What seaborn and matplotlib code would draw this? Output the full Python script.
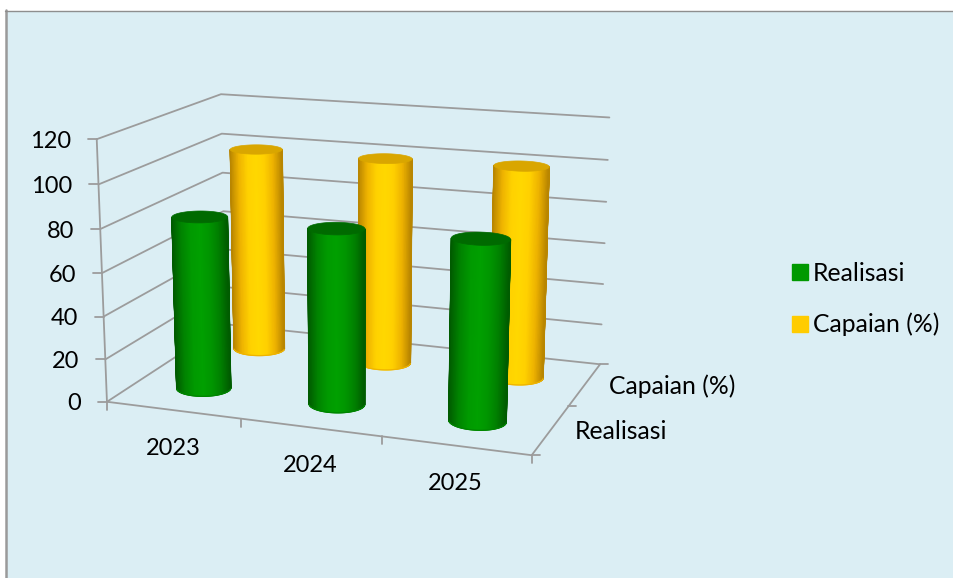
import numpy as np
import pandas as pd
import matplotlib
matplotlib.use("Agg")
import matplotlib.pyplot as plt
from matplotlib.patches import Patch, Rectangle
import seaborn as sns

years = ["2023", "2024", "2025"]
series_names = ["Realisasi", "Capaian (%)"]
realisasi = [81, 81, 82]
capaian = [100, 100, 101]
y_ticks = [0, 20, 40, 60, 80, 100, 120]

GREEN = "#009900"
YELLOW = "#FFCC00"
PANEL = "#DBEEF4"
GRID = "#9C9C9C"
FONT = 17
WORD_FONT = 17.8

sns.set_theme(style="white")
plt.rcParams["font.family"] = ["Lato", "DejaVu Sans"]

# walls of the fake 3D box: (category, depth, height) -> pixel, fitted to a projection
box_uvw = [(0, 0, 0), (1, 0, 0), (0, 1, 0), (1, 1, 0), (0, 0, 1), (0, 1, 1), (1, 1, 1),
           (0, 0, .5), (1, 1, .5), (1 / 3, 0, 0), (2 / 3, 0, 0), (1, .5, 0)]
box_px = [(107, 401), (531, 455), (226, 325), (600, 363), (97, 139), (220, 94), (610, 118),
          (103, 272), (604, 244), (240, 420), (381, 438), (570, 405)]

rows = []
rhs = []
for (u, v, w), (px, py) in zip(box_uvw, box_px):
    rows.append([u, v, w, 1, 0, 0, 0, 0, -px * u, -px * v, -px * w])
    rows.append([0, 0, 0, 0, u, v, w, 1, -py * u, -py * v, -py * w])
    rhs += [px, py]
coef = np.linalg.lstsq(np.array(rows, float), np.array(rhs, float), rcond=None)[0]
P = np.append(coef, 1).reshape(3, 4)


def project(u, v, value):
    u, v, value = np.broadcast_arrays(u, v, value)
    pts = np.stack([u, v, value / 120, np.ones(u.shape)])
    out = P @ pts
    return out[0] / out[2], out[1] / out[2]


def draw_cylinder(ax, u0, v0, value, shades, top, ru=.064, rv=.09):
    ang = np.linspace(0, 2 * np.pi, 181)
    us = u0 + ru * np.cos(ang)
    vs = v0 + rv * np.sin(ang)
    bx, by = project(us, vs, 0)
    tx, ty = project(us, vs, value)
    cmap = sns.blend_palette(shades, as_cmap=True)
    # only the arc that faces the viewer, left silhouette to right silhouette
    i0, i1 = np.argmin(bx[:-1]), np.argmax(bx[:-1])
    arc = np.arange(i0, i1 + (180 if i1 < i0 else 0) + 1) % 180
    shade = (bx[arc] - bx[i0]) / (bx[i1] - bx[i0])
    ax.pcolormesh(np.array([tx[arc], bx[arc]]), np.array([ty[arc], by[arc]]), np.array([shade, shade]),
                  cmap=cmap, vmin=0, vmax=1, shading="gouraud", zorder=3)
    # smooth the mesh borders
    ax.plot(bx[arc], by[arc], color=shades[1], lw=.9, zorder=3)
    ax.plot([tx[i0], bx[i0]], [ty[i0], by[i0]], color=shades[0], lw=.9, zorder=3)
    ax.plot([tx[i1], bx[i1]], [ty[i1], by[i1]], color=shades[0], lw=.9, zorder=3)
    ax.fill(tx, ty, color=top, lw=.5, zorder=3)


fig = plt.figure(figsize=(9.54, 5.78), dpi=100, facecolor="white")
ax = fig.add_axes([0, 0, 1, 1])
ax.set_xlim(0, 954)
ax.set_ylim(578, 0)
ax.axis("off")

ax.add_patch(Rectangle((6, 10.5), 960, 580, facecolor=PANEL, edgecolor="none", zorder=0))
ax.plot([6, 6], [10, 578], color="#9A9A9A", lw=1.8, zorder=1)
ax.plot([5, 954], [10.5, 10.5], color="#8E8E8E", lw=1, zorder=1)

# gridlines and box edges as one tidy table
lines = []
def add_line(name, us, vs, vals):
    x, y = project(np.array(us, float), np.array(vs, float), np.array(vals, float))
    for a, b in zip(x, y):
        lines.append({"line": name, "x": a, "y": b})

for t in y_ticks:
    add_line(f"wall{t}", [0, 0, 1], [0, 1, 1], [t, t, t])
add_line("axis", [0, 0], [0, 0], [0, 120])
add_line("front", [0, 1, 1], [0, 0, 1], [0, 0, 0])
grid = pd.DataFrame(lines)
sns.lineplot(data=grid, x="x", y="y", units="line", estimator=None, sort=False,
             color=GRID, lw=1.3, ax=ax, zorder=2)
ax.set_xlim(0, 954)
ax.set_ylim(578, 0)

# ticks + tick labels
for t in y_ticks:
    x, y = project(0., 0., float(t))
    ax.plot([x - 9, x], [y, y], color=GRID, lw=1.3, zorder=2)
    ax.text(x - 26, y + 2, str(t), ha="right", va="center", fontsize=FONT, color="black")
for i in range(4):
    x, y = project(i / 3, 0., 0.)
    ax.plot([x, x], [y, y + 8], color=GRID, lw=1.3, zorder=2)
for i, yr in enumerate(years):
    x, y = project((i + .5) / 3, 0., 0.)
    ax.text(x, y + 38, yr, ha="center", va="center", fontsize=FONT, color="black")
for i in range(3):
    x, y = project(1., i / 2, 0.)
    ax.plot([x, x + 8], [y, y], color=GRID, lw=1.3, zorder=2)
for j, name in enumerate(series_names):
    x, y = project(1., (j + .5) / 2, 0.)
    ax.text(x + 24, y + 2, name, ha="left", va="center", fontsize=WORD_FONT, color="black")

# back row first, the green row hides it
for i in range(3):
    draw_cylinder(ax, (i + .5) / 3, .75, capaian[i],
                  ["#B98600", "#EFB400", "#FFD200", "#FFD800", "#FFD000", "#EDB200", "#B98600"], "#D9A600")
for i in range(3):
    draw_cylinder(ax, (i + .5) / 3, .25, realisasi[i],
                  ["#005C00", "#008400", "#009A00", "#00A000", "#009600", "#008000", "#005C00"], "#006A00")

handles = [Patch(color=GREEN, label=series_names[0]), Patch(color=YELLOW, label=series_names[1])]
ax.legend(handles=handles, loc="center left", bbox_to_anchor=(770, 299), bbox_transform=ax.transData,
          frameon=False, fontsize=WORD_FONT, handlelength=.62, handleheight=.62, handletextpad=.22,
          labelspacing=1.13, labelcolor="black")

fig.savefig("out.png", dpi=100)
plt.close(fig)
